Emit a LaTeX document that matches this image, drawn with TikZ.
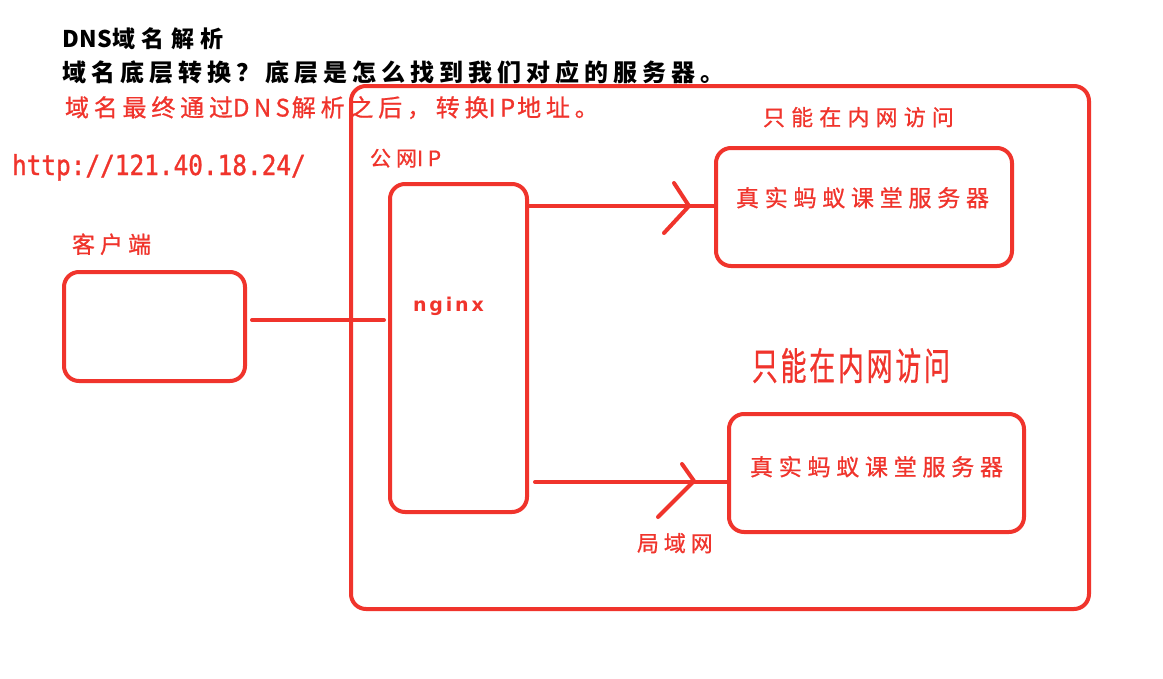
\documentclass[tikz,border=0pt]{standalone}
\usepackage{fontspec}
\usepackage{graphicx}
\newfontfamily\cjk{Noto Sans CJK SC}
\newfontfamily\monof{DejaVu Sans Mono}
\newfontfamily\latf{DejaVu Sans}
\usetikzlibrary{calc}
\definecolor{rd}{RGB}{240,52,44}
\newcommand\mytx[2]{\cjk\fontsize{#1}{#1}\selectfont\addfontfeatures{LetterSpace=#2}}
\newcommand\rdtx[2]{\cjk\fontsize{#1}{#1}\selectfont\addfontfeatures{LetterSpace=#2,FakeBold=0.8}}
\newcommand\lat[2]{{\addfontfeatures{LetterSpace=#1}#2}}
\begin{document}
\begin{tikzpicture}[x=1pt,y=-1pt,
  box/.style={draw=rd, line width=4pt, rounded corners=15pt, inner sep=0pt},
  conn/.style={draw=rd, line width=4pt, line cap=round, line join=round},
  txt/.style={anchor=base west, inner sep=0pt, outer sep=0pt, text=rd},
]
\useasboundingbox[fill=white] (0,0) rectangle (1163,678);
% boxes
\node[box, minimum width=738pt, minimum height=523pt] (outer) at (720,347.5) {};
\node[box, minimum width=181pt, minimum height=109pt] (client) at (154.5,326.5) {};
\node[box, minimum width=137pt, minimum height=328pt] (nginx) at (458.5,348) {};
\node[box, minimum width=296pt, minimum height=118pt] (server1) at (864,207) {};
\node[box, minimum width=295pt, minimum height=118pt] (server2) at (876.5,473) {};
% texts
\node[txt, text=black] (t1) at (62,47) {\mytx{23}{28}\bfseries \lat{3}{DNS}域名解析};
\node[txt, text=black] (t2) at (62,81.5) {\mytx{24}{21}\bfseries 域名底层转换？底层是怎么找到我们对应的服务器。};
\node[txt] (t3) at (65,116.5) {\rdtx{24}{20}域名最终通过\lat{18}{DNS}\hspace{2pt}解析之后，转换\lat{18}{IP}\hspace{2pt}地址。};
\node[txt] (url) at (12,175) {\scalebox{1}[1.13]{\monof\fontsize{24.4}{24.4}\selectfont\addfontfeatures{FakeBold=1.3}http://121.40.18.24/}};
\node[txt] (pubip) at (370,166) {\rdtx{21}{24}公网\lat{22}{IP}};
\node[txt] (clientlbl) at (72,253) {\rdtx{23}{22}客户端};
\node[txt] (nginxlbl) at (413,311) {\latf\bfseries\fontsize{19}{19}\selectfont\addfontfeatures{LetterSpace=15}nginx};
\node[txt] (inner1) at (763,125.5) {\rdtx{22}{28}只能在内网访问};
\node[txt] (s1lbl) at (736,206.5) {\rdtx{23}{25}真实蚂蚁课堂服务器};
\node[txt] (big) at (752,380) {\scalebox{0.68}[1]{\rdtx{38}{11}只能在内网访问}};
\node[txt] (s2lbl) at (750,475.5) {\rdtx{23}{25}真实蚂蚁课堂服务器};
\node[txt] (lan) at (637,551.5) {\rdtx{22}{22}局域网};
% connectors
\draw[conn] ($(client.east)+(5,-6.5)$) coordinate (c1) -- ($(nginx.west|-c1)+(-4,0)$);
\draw[conn] ($(nginx.east|-server1.west)+(0,-1)$) -- ($(server1.west)+(0,-1)$);
\draw[conn] ($(server1.west)+(-40,-24)$) -- ($(server1.west)+(-25,-1)$) -- ($(server1.west)+(-50,26)$);
\draw[conn] ($(nginx.east|-server2.west)+(6,9)$) -- ($(server2.west)+(0,9)$);
\draw[conn] ($(server2.west)+(-45,-9)$) -- ($(server2.west)+(-33,8)$) -- ($(server2.west)+(-69,44)$);
\end{tikzpicture}
\end{document}
